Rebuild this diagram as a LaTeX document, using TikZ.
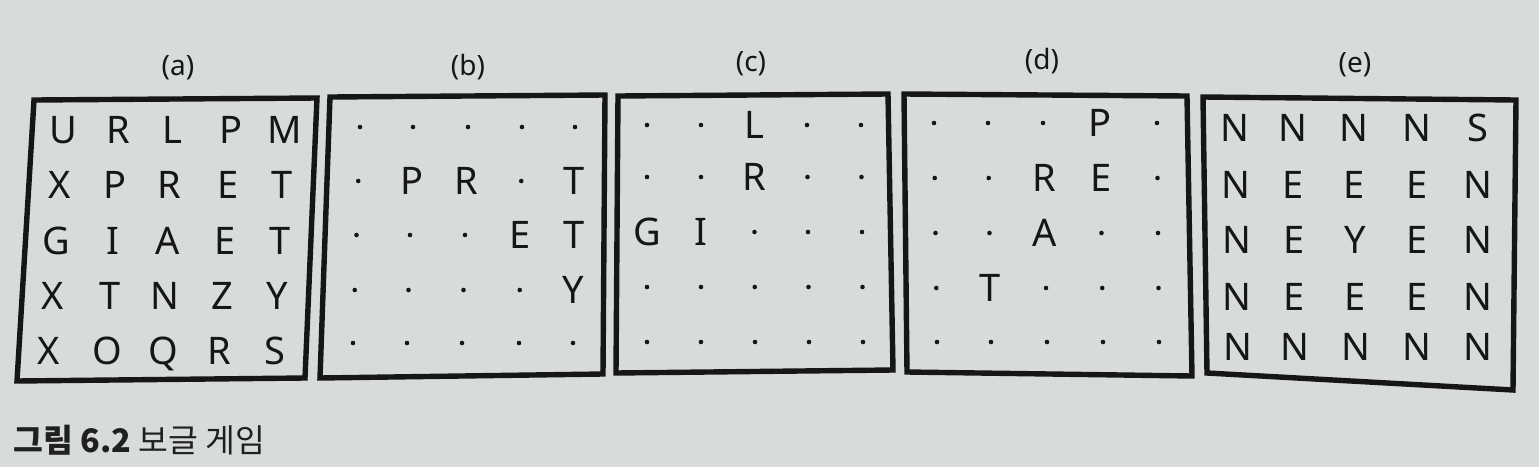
\documentclass[tikz,border=0pt]{standalone}
\usepackage{fontspec}
\newfontfamily\gridfont{Noto Sans}
\newfontfamily\capfont{Noto Sans CJK KR}
\definecolor{paper}{RGB}{216,219,219}
\definecolor{inkc}{RGB}{22,22,22}
\definecolor{capc}{RGB}{32,32,32}
\def\dotch{.}
\newcommand\boggrid[5]{%
  \foreach \ch [count=\i from 0] in {#5} {%
    \pgfmathtruncatemacro\r{int(\i/5)}%
    \pgfmathtruncatemacro\c{mod(\i,5)}%
    \pgfmathsetmacro\xa{{#2}[\c]}%
    \pgfmathsetmacro\xb{{#3}[\c]}%
    \pgfmathsetmacro\yy{{#4}[\r]}%
    \pgfmathsetmacro\xx{\xa+(\xb-\xa)*\r/4}%
    \ifx\ch\dotch
      \node[gdot] (#1\r\c) at (\xx,\yy) {};
    \else
      \node[letter] (#1\r\c) at (\xx,\yy+13.5) {\ch};
    \fi
  }%
}
\begin{document}
\begin{tikzpicture}[x=0.5pt,y=-0.5pt,
  boxline/.style={line width=2.7pt, draw=inkc, line join=miter},
  letter/.style={font=\gridfont\fontsize{19pt}{22pt}\selectfont, text=inkc, inner sep=0pt, anchor=base},
  gdot/.style={circle, fill=inkc, inner sep=0pt, minimum size=2.3pt},
  panellabel/.style={font=\gridfont\fontsize{14pt}{16pt}\selectfont, text=inkc, anchor=base, inner sep=0pt},
  caption/.style={font=\capfont\fontsize{16.2pt}{19pt}\selectfont, text=capc, anchor=base west, inner sep=0pt}
]
\fill[paper] (0,0) rectangle (1539,467);
\useasboundingbox (0,0) rectangle (1539,467);

% box corners
\coordinate (aTL) at (34,100);  \coordinate (aTR) at (317,98);  \coordinate (aBR) at (305,378);  \coordinate (aBL) at (17,381);
\coordinate (bTL) at (330,97);  \coordinate (bTR) at (605,95);  \coordinate (bBR) at (603,374);  \coordinate (bBL) at (320,378);
\coordinate (cTL) at (618,96);  \coordinate (cTR) at (888,94);  \coordinate (cBR) at (893,370);  \coordinate (cBL) at (616,373);
\coordinate (dTL) at (904,94);  \coordinate (dTR) at (1187,96); \coordinate (dBR) at (1192,376); \coordinate (dBL) at (907,372);
\coordinate (eTL) at (1203,97); \coordinate (eTR) at (1516,100);\coordinate (eBR) at (1513,390); \coordinate (eBL) at (1207,373);

\foreach \b in {a,b,c,d,e}
  \draw[boxline] (\b TL) -- (\b TR) -- (\b BR) -- (\b BL) -- cycle;

% panel labels
\node[panellabel] (la) at (178,75) {(a)};
\node[panellabel] (lb) at (468,75) {(b)};
\node[panellabel] (lc) at (751,71) {(c)};
\node[panellabel] (ld) at (1042,69) {(d)};
\node[panellabel] (le) at (1355,72) {(e)};

% grids
\boggrid{a}{63,118,172,231,285}{49,107,163,219,275}{130,185,241,296,351}%
  {U,R,L,P,M,X,P,R,E,T,G,I,A,E,T,X,T,N,Z,Y,X,O,Q,R,S}
\boggrid{b}{360,413,468,522,575}{353,407,462,519,573}{127,181,235,290,343}%
  {.,.,.,.,.,.,P,R,.,T,.,.,.,E,T,.,.,.,.,Y,.,.,.,.,.}
\boggrid{c}{647,701,754,807,861}{647,701,755,809,863}{125,177,232,287,342}%
  {.,.,L,.,.,.,.,R,.,.,G,I,.,.,.,.,.,.,.,.,.,.,.,.,.}
\boggrid{d}{934,988,1043,1100,1157}{937,991,1047,1103,1159}{123,178,233,288,342}%
  {.,.,.,P,.,.,.,R,E,.,.,.,A,.,.,.,T,.,.,.,.,.,.,.,.}
\boggrid{e}{1235,1293,1354,1417,1478}{1238,1295,1356,1417,1478}{128,185,240,297,347}%
  {N,N,N,N,S,N,E,E,E,N,N,E,Y,E,N,N,E,E,E,N,N,N,N,N,N}

% caption
\node[caption] (cap) at (13,452) {{\bfseries 그림 6.2} 보글 게임};
\end{tikzpicture}
\end{document}
